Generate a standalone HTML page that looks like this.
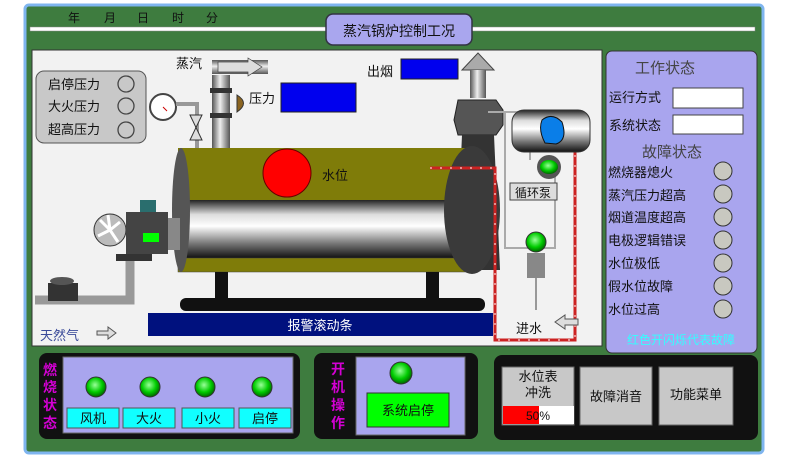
<!DOCTYPE html>
<html><head><meta charset="utf-8"><style>
html,body{margin:0;padding:0;background:#fff;}
svg{display:block;}
text{font-family:"Liberation Sans","Noto Sans CJK SC",sans-serif;}
</style></head><body>
<svg width="790" height="470" viewBox="0 0 790 470" xmlns="http://www.w3.org/2000/svg">
<defs>
<linearGradient id="silver" x1="0" y1="0" x2="0" y2="1">
<stop offset="0" stop-color="#222"/><stop offset="0.25" stop-color="#ddd"/><stop offset="0.45" stop-color="#fff"/><stop offset="0.75" stop-color="#777"/><stop offset="1" stop-color="#111"/></linearGradient>
<linearGradient id="pipeV" x1="0" y1="0" x2="1" y2="0">
<stop offset="0" stop-color="#555"/><stop offset="0.45" stop-color="#eee"/><stop offset="1" stop-color="#555"/></linearGradient>
<linearGradient id="pipeH" x1="0" y1="0" x2="0" y2="1">
<stop offset="0" stop-color="#555"/><stop offset="0.45" stop-color="#eee"/><stop offset="1" stop-color="#555"/></linearGradient>
<radialGradient id="led" cx="0.45" cy="0.4" r="0.6"><stop offset="0" stop-color="#9f9"/><stop offset="0.6" stop-color="#0c0"/><stop offset="1" stop-color="#060"/></radialGradient>
</defs>
<!-- outer frame -->
<rect x="25" y="5" width="738" height="448" rx="4" fill="#3e7c3f" stroke="#7fb5ef" stroke-width="3"/>
<text x="68" y="22" font-size="12" fill="#111" letter-spacing="0">年</text>
<text x="104" y="22" font-size="12" fill="#111">月</text>
<text x="137" y="22" font-size="12" fill="#111">日</text>
<text x="172" y="22" font-size="12" fill="#111">时</text>
<text x="206" y="22" font-size="12" fill="#111">分</text>
<rect x="30" y="27" width="298" height="4" fill="#fff" stroke="#888" stroke-width="0.5"/>
<rect x="470" y="27" width="285" height="4" fill="#fff" stroke="#888" stroke-width="0.5"/>
<rect x="326" y="14" width="146" height="31" rx="7" fill="#a9a6ee" stroke="#334" stroke-width="1.5"/>
<text x="399" y="36" font-size="14" fill="#111" text-anchor="middle">蒸汽锅炉控制工况</text>
<!-- main white panel -->
<rect x="32" y="50" width="570" height="296" fill="#f2f2f2" stroke="#333"/>
<!-- pressure box -->
<rect x="36" y="71" width="110" height="72" rx="8" fill="#c8c8c8" stroke="#555"/>
<text x="48" y="89" font-size="13" fill="#111">启停压力</text>
<text x="48" y="111" font-size="13" fill="#111">大火压力</text>
<text x="48" y="134" font-size="13" fill="#111">超高压力</text>
<circle cx="126" cy="84" r="8" fill="none" stroke="#444" stroke-width="1.3"/>
<circle cx="126" cy="106" r="8" fill="none" stroke="#444" stroke-width="1.3"/>
<circle cx="126" cy="130" r="8" fill="none" stroke="#444" stroke-width="1.3"/>
<!-- gauge -->
<circle cx="163" cy="107" r="13" fill="#fff" stroke="#444" stroke-width="2"/>
<line x1="163" y1="107" x2="167" y2="111" stroke="#c00"/>
<path d="M176 104 H197 V148" fill="none" stroke="#999" stroke-width="4"/>
<path d="M190 115 L202 140 L190 140 L202 115 Z" fill="#ddd" stroke="#333"/>
<text x="176" y="68" font-size="13" fill="#111">蒸汽</text>
<!-- steam pipe -->
<rect x="212" y="75" width="18" height="73" fill="url(#pipeV)"/>
<rect x="212" y="60" width="56" height="14" fill="url(#pipeH)"/>
<path d="M218 62 H248 V58 L262 67 L248 76 V72 H218 Z" fill="#ddd" stroke="#444" stroke-width="0.7"/>
<rect x="210" y="88" width="22" height="5" fill="#333"/><rect x="210" y="113" width="22" height="5" fill="#333"/>
<path d="M237 95 Q250 103 237 112 Z" fill="#8b6420" stroke="#333"/>
<text x="249" y="103" font-size="13" fill="#111">压力</text>
<rect x="281" y="83" width="75" height="29" fill="#0000ee" stroke="#222"/>
<text x="367" y="76" font-size="13" fill="#111">出烟</text>
<rect x="401" y="59" width="57" height="20" fill="#0000ee" stroke="#222"/>
<!-- chimney -->
<path d="M462 70 L478 53 L494 70 Z" fill="#aaa" stroke="#444"/>
<rect x="470" y="70" width="16" height="28" fill="url(#pipeV)"/>
<path d="M458 100 L496 100 L503 110 L503 125 L496 135 L458 135 L454 120 Z" fill="#555" stroke="#222"/>
<path d="M462 135 L494 135 L500 270 L456 270 Z" fill="#333"/>
<!-- boiler -->
<rect x="178" y="148" width="292" height="52" fill="#7f7c09"/>
<rect x="180" y="200" width="290" height="58" fill="url(#silver)"/>
<rect x="178" y="258" width="292" height="14" fill="#7f7c09" stroke="#444" stroke-width="0.5"/>
<ellipse cx="181" cy="210" rx="9" ry="62" fill="#555"/>
<ellipse cx="472" cy="210" rx="28" ry="64" fill="#3a3a3a"/>
<circle cx="287" cy="173" r="24" fill="#f00" stroke="#600"/>
<text x="322" y="180" font-size="13" fill="#111">水位</text>
<rect x="215" y="272" width="13" height="27" fill="#111"/><rect x="426" y="272" width="13" height="27" fill="#111"/>
<rect x="180" y="298" width="305" height="13" rx="6" fill="#111"/>
<rect x="148" y="313" width="345" height="23" fill="#00117e"/>
<text x="320" y="330" font-size="13" fill="#fff" text-anchor="middle">报警滚动条</text>
<!-- burner -->
<circle cx="110" cy="230" r="16" fill="#bbb" stroke="#333"/>
<path d="M110 230 L100 220 M110 230 L120 222 M110 230 L98 236 M110 230 L118 242 M110 230 L108 215" stroke="#fff" stroke-width="3"/>
<rect x="126" y="212" width="42" height="42" fill="#444"/>
<rect x="140" y="200" width="16" height="12" fill="#2a6e6e"/>
<rect x="143" y="233" width="16" height="9" fill="#0f0"/>
<rect x="168" y="218" width="12" height="32" fill="#888"/>
<rect x="116" y="254" width="36" height="7" fill="#333"/>
<path d="M130 261 V300 H35" fill="none" stroke="#999" stroke-width="9"/>
<rect x="48" y="283" width="30" height="18" fill="#333"/>
<ellipse cx="62" cy="281" rx="12" ry="4" fill="#555"/>
<text x="40" y="340" font-size="13" fill="#3a4a99">天然气</text>
<path d="M97 331 H108 V327 L116 333 L108 339 V335 H97 Z" fill="#ddd" stroke="#555"/>
<!-- red pipe -->
<path d="M430 168 H495 V340 H575 V145" fill="none" stroke="#c22" stroke-width="3"/>
<path d="M430 168 H495 V340 H575 V145" fill="none" stroke="#fff" stroke-width="1" stroke-dasharray="2 8"/>
<!-- tank -->
<path d="M488 112 H530 V160 M505 112 V248 H555 V172" fill="none" stroke="#aaa" stroke-width="2"/>
<rect x="512" y="110" width="78" height="42" rx="12" fill="url(#silver)" stroke="#333"/>
<path d="M542 120 Q552 112 562 122 Q568 140 556 144 L545 143 Q538 130 542 120 Z" fill="#0a7ee8" stroke="#111"/>
<circle cx="549" cy="167" r="12" fill="#555"/><ellipse cx="549" cy="167" rx="9" ry="7" fill="url(#led)"/>
<rect x="510" y="183" width="47" height="17" fill="#ddd" stroke="#444"/>
<text x="533" y="197" font-size="12" fill="#111" text-anchor="middle">循环泵</text>
<circle cx="536" cy="242" r="10" fill="url(#led)" stroke="#333"/>
<rect x="527" y="253" width="18" height="25" fill="#888"/>
<line x1="536" y1="278" x2="536" y2="310" stroke="#999" stroke-width="2"/>
<text x="516" y="333" font-size="13" fill="#111">进水</text>
<path d="M578 319 H565 V315 L555 322 L565 329 V325 H578 Z" fill="#ddd" stroke="#555"/>
<!-- right panel -->
<rect x="606" y="51" width="151" height="302" rx="6" fill="#a9a5ee" stroke="#333"/>
<text x="665" y="73" font-size="15" fill="#444" text-anchor="middle">工作状态</text>
<text x="609" y="102" font-size="13" fill="#111">运行方式</text>
<rect x="673" y="88" width="70" height="20" fill="#fff" stroke="#444"/>
<text x="609" y="130" font-size="13" fill="#111">系统状态</text>
<rect x="673" y="115" width="70" height="19" fill="#fff" stroke="#444"/>
<text x="672" y="157" font-size="15" fill="#444" text-anchor="middle">故障状态</text>
<g font-size="13" fill="#111">
<text x="608" y="177">燃烧器熄火</text><text x="608" y="200">蒸汽压力超高</text><text x="608" y="222">烟道温度超高</text><text x="608" y="245">电极逻辑错误</text><text x="608" y="268">水位极低</text><text x="608" y="291">假水位故障</text><text x="608" y="314">水位过高</text></g>
<g fill="#c8c8c0" stroke="#333"><circle cx="723" cy="171" r="9"/><circle cx="723" cy="194" r="9"/><circle cx="723" cy="217" r="9"/><circle cx="723" cy="240" r="9"/><circle cx="723" cy="263" r="9"/><circle cx="723" cy="286" r="9"/><circle cx="723" cy="309" r="9"/></g>
<text x="681" y="344" font-size="12" fill="#3ff" text-anchor="middle">红色开闪烁代表故障</text>
<!-- bottom panel 1 -->
<rect x="39" y="353" width="261" height="86" rx="8" fill="#111"/>
<rect x="63" y="357" width="230" height="76" fill="#a9a5ee" stroke="#666"/>
<g fill="#d400d4" font-size="14" font-weight="bold"><text x="43" y="375">燃</text><text x="43" y="392">烧</text><text x="43" y="410">状</text><text x="43" y="428">态</text></g>
<g stroke="#333"><circle cx="96" cy="387" r="10" fill="url(#led)"/><circle cx="150" cy="387" r="10" fill="url(#led)"/><circle cx="205" cy="387" r="10" fill="url(#led)"/><circle cx="262" cy="387" r="10" fill="url(#led)"/></g>
<g fill="#1ff" stroke="#555"><rect x="67" y="408" width="52" height="20"/><rect x="123" y="408" width="52" height="20"/><rect x="182" y="408" width="52" height="20"/><rect x="239" y="408" width="52" height="20"/></g>
<g font-size="13" fill="#111" text-anchor="middle"><text x="93" y="423">风机</text><text x="149" y="423">大火</text><text x="208" y="423">小火</text><text x="265" y="423">启停</text></g>
<!-- bottom panel 2 -->
<rect x="314" y="353" width="164" height="86" rx="8" fill="#111"/>
<rect x="356" y="357" width="109" height="78" fill="#a9a5ee" stroke="#666"/>
<g fill="#d400d4" font-size="14" font-weight="bold"><text x="331" y="374">开</text><text x="331" y="392">机</text><text x="331" y="410">操</text><text x="331" y="428">作</text></g>
<circle cx="401" cy="373" r="11" fill="url(#led)" stroke="#333"/>
<rect x="367" y="393" width="82" height="34" fill="#0f0" stroke="#333"/>
<text x="408" y="415" font-size="13" fill="#111" text-anchor="middle">系统启停</text>
<!-- bottom panel 3 -->
<rect x="494" y="355" width="264" height="85" rx="8" fill="#111"/>
<rect x="502" y="367" width="72" height="58" fill="#c8c8c8" stroke="#666"/>
<text x="538" y="381" font-size="13" fill="#111" text-anchor="middle">水位表</text>
<text x="538" y="397" font-size="13" fill="#111" text-anchor="middle">冲洗</text>
<rect x="503" y="406" width="71" height="18" fill="#fff"/>
<rect x="503" y="406" width="36" height="18" fill="#f00"/>
<text x="538" y="420" font-size="12" fill="#111" text-anchor="middle">50%</text>
<rect x="580" y="367" width="72" height="58" fill="#c8c8c8" stroke="#666"/>
<text x="616" y="401" font-size="13" fill="#111" text-anchor="middle">故障消音</text>
<rect x="659" y="367" width="74" height="58" fill="#c8c8c8" stroke="#666"/>
<text x="696" y="399" font-size="13" fill="#111" text-anchor="middle">功能菜单</text>
</svg>
</body></html>
